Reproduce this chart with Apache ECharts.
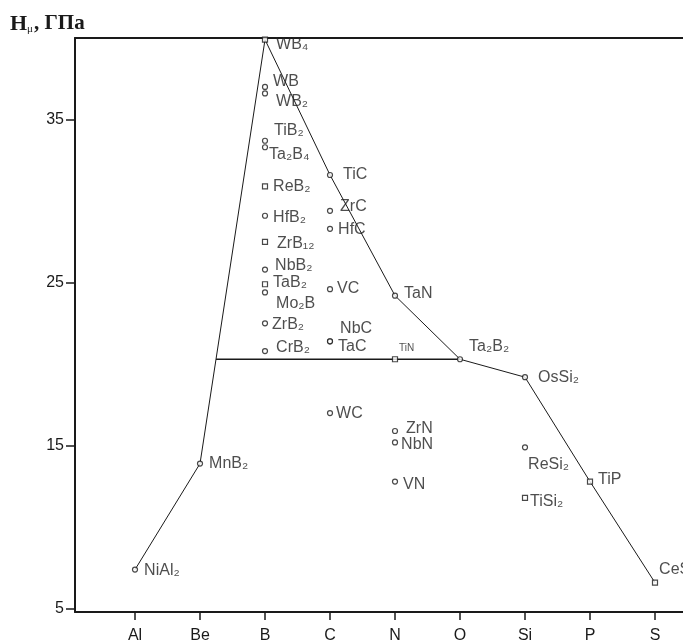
<!DOCTYPE html>
<html><head><meta charset="utf-8">
<script src="https://cdn.jsdelivr.net/npm/echarts@6/dist/echarts.min.js"></script>
<style>html,body{margin:0;padding:0;background:#fff}#c{width:683px;height:644px}</style>
</head><body><div id="c"></div>
<script>
// ---- data ----
const categories = ['Al','Be','B','C','N','O','Si','P','S'];
const yTicks = [5, 15, 25, 35];
const names = ['NiAl₂','MnB₂','WB₄','WB','WB₂','TiB₂','Ta₂B₄','ReB₂','HfB₂','ZrB₁₂','NbB₂','TaB₂','Mo₂B','ZrB₂','CrB₂',
               'TiC','ZrC','HfC','VC','NbC','TaC','WC',
               'TaN','TiN','ZrN','NbN','VN',
               'Ta₂B₂','OsSi₂','ReSi₂','TiSi₂','TiP','CeS'];
const groups = ['Al','Be','B','B','B','B','B','B','B','B','B','B','B','B','B',
                'C','C','C','C','C','C','C',
                'N','N','N','N','N',
                'O','Si','Si','Si','P','S'];
const hardness = [7.4,13.9,39.9,37.0,36.6,33.7,33.3,30.9,29.1,27.5,25.8,24.9,24.4,22.5,20.8,
                  31.6,29.4,28.3,24.6,21.4,21.4,17.0,
                  24.2,20.3,15.9,15.2,12.8,
                  20.3,19.2,14.9,11.8,12.8,6.6];
const leftBoundary = ['NiAl₂','MnB₂','WB₄'];
const rightBoundary = ['WB₄','TiC','TaN','Ta₂B₂','OsSi₂','TiP','CeS'];
const plateauEnd = 'Ta₂B₂';

// ---- styles (label placement, marker shapes) ----
const labelOffsets = {
  'NiAl₂':[6,1],'MnB₂':[6,0],'WB₄':[8,5],'WB':[5,-5],'WB₂':[8,8],'TiB₂':[6,-10],'Ta₂B₄':[1,7],
  'ReB₂':[5,0],'HfB₂':[5,2],'ZrB₁₂':[9,2],'NbB₂':[7,-4],'TaB₂':[5,-2],'Mo₂B':[8,11],'ZrB₂':[4,1],
  'CrB₂':[8,-3],'TiC':[10,0],'ZrC':[7,-4],'HfC':[5,1],'VC':[4,-1],'NbC':[7,-13],'TaC':[5,5],
  'WC':[3,1],'TaN':[6,-2],'TiN':[1,-11],'ZrN':[8,-2],'NbN':[3,2],'VN':[5,3],'Ta₂B₂':[6,-13],
  'OsSi₂':[10,0],'ReSi₂':[0,17],'TiSi₂':[2,4],'TiP':[5,-2],'CeS':[1,-13]
};
const squareMarkers = ['WB₄','ReB₂','ZrB₁₂','TaB₂','TiSi₂','TiP','CeS','TiN'];
const FONT = '"Liberation Sans", "DejaVu Sans", Arial, sans-serif';
const INK = '#1a1a1a';

const X = n => categories.indexOf(groups[names.indexOf(n)]) + 1;
const Y = n => hardness[names.indexOf(n)];
const pt = n => [X(n), Y(n)];

// plateau: horizontal line from left boundary to Ta2B2
const py = Y(plateauEnd);
const [ax, ay] = pt('MnB₂'), [bx, by] = pt('WB₄');
const plateauStart = [ax + (py - ay) / (by - ay) * (bx - ax), py];

const xMin = 0.0769, xMax = 9.4308, yMin = 4.8, yMax = 40;

const lineStyle = {color: INK, width: 1};
const chart = echarts.init(document.getElementById('c'), null, {renderer: 'canvas'});
chart.setOption({
  animation: false,
  backgroundColor: '#fff',
  grid: {left: 75, right: 0, top: 38, bottom: 32},
  graphic: [{
    type: 'text', left: 10, top: 13,
    style: {
      text: '{h|H}{s|μ}{t|, ГПа}',
      rich: {
        h: {fontFamily: '"Liberation Serif", "DejaVu Serif", serif', fontSize: 22, fontWeight: 'bold', fill: INK},
        s: {fontFamily: '"Liberation Serif", "DejaVu Serif", serif', fontSize: 11, verticalAlign: 'bottom', fill: INK, padding: [8, 1, 0, 0]},
        t: {fontFamily: '"Liberation Serif", "DejaVu Serif", serif', fontSize: 21, fontWeight: 'bold', fill: INK}
      }
    }
  }],
  xAxis: [{
    type: 'value', min: xMin, max: xMax,
    axisLine: {show: true, onZero: false, lineStyle: {color: INK, width: 2}},
    axisTick: {show: true, length: 8, customValues: categories.map((c, i) => i + 1), lineStyle: {color: INK, width: 1.5}},
    axisLabel: {customValues: categories.map((c, i) => i + 1), formatter: v => categories[Math.round(v) - 1] || '',
                fontSize: 16, fontFamily: FONT, color: INK, margin: 16},
    splitLine: {show: false}
  }, {
    type: 'value', min: xMin, max: xMax, position: 'top',
    axisLine: {show: true, onZero: false, lineStyle: {color: INK, width: 2}},
    axisTick: {show: false}, axisLabel: {show: false}, splitLine: {show: false}
  }],
  yAxis: {
    type: 'value', min: yMin, max: yMax,
    axisLine: {show: true, onZero: false, lineStyle: {color: INK, width: 2}},
    axisTick: {show: true, length: 9, customValues: yTicks, lineStyle: {color: INK, width: 1.5}},
    axisLabel: {customValues: yTicks, fontSize: 16, fontFamily: FONT, color: INK, margin: 11},
    splitLine: {show: false}
  },
  series: [
    {type: 'line', data: leftBoundary.map(pt), symbol: 'none', lineStyle, z: 2, silent: true},
    {type: 'line', data: rightBoundary.map(pt), symbol: 'none', lineStyle, z: 2, silent: true},
    {type: 'line', data: [plateauStart, pt(plateauEnd)], symbol: 'none', lineStyle: {color: INK, width: 1.5}, z: 2, silent: true},
    {
      type: 'scatter', z: 3,
      symbolSize: 5,
      itemStyle: {color: '#fff', borderColor: INK, borderWidth: 1.2},
      label: {show: true, position: 'right', distance: 0, formatter: p => p.name,
              fontSize: 16, fontFamily: FONT, color: '#222'},
      data: names.map((n, i) => ({
        name: n,
        value: [X(n), hardness[i]],
        symbol: squareMarkers.includes(n) ? 'rect' : 'circle',
        label: Object.assign({offset: labelOffsets[n] || [4, 0]}, n === 'TiN' ? {fontSize: 10} : {})
      }))
    }
  ]
});
</script></body></html>
